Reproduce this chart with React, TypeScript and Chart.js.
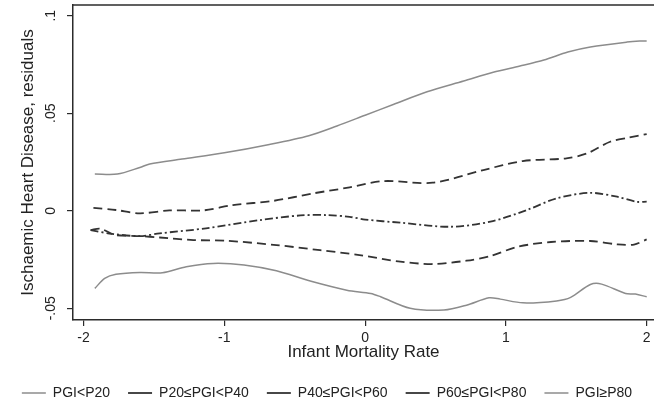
import React, { useEffect, useRef } from "react";
import { Chart, registerables } from "chart.js";

Chart.register(...registerables);

// ---- data ----
const seriesLabels = ["PGI<P20", "P20≤PGI<P40", "P40≤PGI<P60", "P60≤PGI<P80", "PGI≥P80"];

const xTicks = [-2, -1, 0, 1, 2];
const yTicks = [-0.05, 0, 0.05, 0.1];
const yTickLabels = ["-.05", "0", ".05", ".1"];

// PGI<P20 (bottom grey line)
const p20X = [-1.92, -1.85, -1.77, -1.6, -1.44, -1.27, -1.08, -0.86, -0.63, -0.39, -0.13, 0.04, 0.11, 0.32, 0.56, 0.72, 0.88, 0.96, 1.12, 1.36, 1.46, 1.6, 1.68, 1.85, 1.92, 2.0];
const p20Y = [-0.0398, -0.0347, -0.0326, -0.0316, -0.0318, -0.0287, -0.027, -0.0278, -0.0308, -0.036, -0.0407, -0.0424, -0.0441, -0.05, -0.0509, -0.0484, -0.0446, -0.0453, -0.0472, -0.0462, -0.0444, -0.0378, -0.0376, -0.0424, -0.0427, -0.0441];

// P20≤PGI<P40 (lower dashed line)
const p40X = [-1.95, -1.88, -1.8, -1.77, -1.6, -1.46, -1.22, -0.98, -0.63, -0.32, -0.04, 0.25, 0.48, 0.72, 0.89, 1.08, 1.32, 1.6, 1.79, 1.91, 2.0];
const p40Y = [-0.0099, -0.0092, -0.0118, -0.0125, -0.013, -0.0137, -0.015, -0.0154, -0.0176, -0.0202, -0.0227, -0.0261, -0.0273, -0.0256, -0.0232, -0.0185, -0.016, -0.0155, -0.0172, -0.0173, -0.0147];

// P40≤PGI<P60 (dash-dot line)
const p60X = [-1.95, -1.8, -1.6, -1.46, -1.13, -0.75, -0.46, -0.27, -0.11, 0.0, 0.25, 0.6, 0.89, 1.15, 1.36, 1.6, 1.79, 1.93, 2.0];
const p60Y = [-0.0099, -0.0118, -0.013, -0.0116, -0.009, -0.0048, -0.0024, -0.0022, -0.0031, -0.0045, -0.0061, -0.0082, -0.0056, 0.0004, 0.0064, 0.0092, 0.0072, 0.0046, 0.0047];

// P60≤PGI<P80 (upper dashed line)
const p80X = [-1.93, -1.77, -1.6, -1.39, -1.15, -0.94, -0.65, -0.37, -0.11, 0.13, 0.48, 0.84, 1.12, 1.43, 1.58, 1.74, 1.87, 2.0];
const p80Y = [0.0015, 0.0004, -0.0013, 0.0002, 0.0002, 0.0029, 0.0051, 0.0089, 0.012, 0.0152, 0.0144, 0.0209, 0.0255, 0.0269, 0.0295, 0.0354, 0.0375, 0.0393];

// PGI≥P80 (top grey line)
const p100X = [-1.92, -1.76, -1.6, -1.53, -1.3, -1.0, -0.68, -0.4, -0.2, 0.0, 0.2, 0.44, 0.7, 0.91, 1.1, 1.27, 1.44, 1.6, 1.86, 1.95, 2.0];
const p100Y = [0.0188, 0.0188, 0.0222, 0.024, 0.0265, 0.0297, 0.034, 0.0385, 0.0435, 0.049, 0.0545, 0.061, 0.0665, 0.071, 0.0742, 0.0773, 0.0814, 0.084, 0.0865, 0.087, 0.087];

const zip = (xs: number[], ys: number[]) => xs.map((x, i) => ({ x, y: ys[i] }));

const FONT = "'Liberation Sans', Arial, Helvetica, sans-serif";
const TEXT = "#222";
const AXIS = "#2b2b2b";
const GREY = "#8c8c8c";
const DARK = "#333333";
const DASH = [9, 5];
const DASHDOT = [8, 3, 2, 3];

const topBorder = {
  id: "topBorder",
  afterDraw(chart: any) {
    const { ctx, chartArea } = chart;
    ctx.save();
    ctx.strokeStyle = AXIS;
    ctx.lineWidth = 1.5;
    ctx.beginPath();
    ctx.moveTo(chartArea.left - 0.75, chartArea.top);
    ctx.lineTo(chartArea.right, chartArea.top);
    ctx.stroke();
    ctx.restore();
  },
};

export default function App() {
  const ref = useRef<HTMLCanvasElement>(null);

  useEffect(() => {
    const mk = (label: string, data: any[], color: string, dash: number[], width: number) => ({
      label,
      data,
      borderColor: color,
      backgroundColor: color,
      borderDash: dash,
      borderWidth: width,
      pointRadius: 0,
      tension: 0.3,
      fill: false,
    });

    const chart = new Chart(ref.current as HTMLCanvasElement, {
      type: "line",
      data: {
        datasets: [
          mk(seriesLabels[0], zip(p20X, p20Y), GREY, [], 1.5),
          mk(seriesLabels[1], zip(p40X, p40Y), DARK, DASH, 1.8),
          mk(seriesLabels[2], zip(p60X, p60Y), DARK, DASHDOT, 1.8),
          mk(seriesLabels[3], zip(p80X, p80Y), DARK, DASH, 1.8),
          mk(seriesLabels[4], zip(p100X, p100Y), GREY, [], 1.5),
        ],
      },
      options: {
        responsive: false,
        animation: false,
        layout: { padding: { top: 5, right: 0, left: 0, bottom: -4 } },
        scales: {
          x: {
            type: "linear",
            min: -2.075,
            max: 2.052,
            afterBuildTicks: (s: any) => {
              s.ticks = xTicks.map((v) => ({ value: v }));
            },
            afterFit: (s: any) => {
              s.height = 48;
              s.paddingLeft = 0;
              s.paddingRight = 0;
            },
            grid: { drawOnChartArea: false, drawTicks: true, tickLength: 6, color: AXIS, lineWidth: 1.2 },
            border: { display: true, color: AXIS, width: 1.5 },
            ticks: {
              color: TEXT,
              font: { family: FONT, size: 14 },
              padding: 4,
              maxRotation: 0,
              minRotation: 0,
              callback: (v: any) => String(v),
            },
            title: {
              display: true,
              text: "Infant Mortality Rate",
              color: TEXT,
              font: { family: FONT, size: 17 },
              padding: { top: 0, bottom: 5.8 },
            },
          },
          y: {
            type: "linear",
            min: -0.056,
            max: 0.1055,
            afterBuildTicks: (s: any) => {
              s.ticks = yTicks.map((v) => ({ value: v }));
            },
            afterFit: (s: any) => {
              s.width = 73;
              s.paddingTop = 0;
              s.paddingBottom = 0;
            },
            grid: { drawOnChartArea: false, drawTicks: true, tickLength: 6, color: AXIS, lineWidth: 1.2 },
            border: { display: true, color: AXIS, width: 1.5 },
            ticks: {
              color: TEXT,
              font: { family: FONT, size: 14 },
              padding: 4,
              minRotation: 90,
              maxRotation: 90,
              crossAlign: "center",
              callback: (v: any) => {
                const i = yTicks.findIndex((t) => Math.abs(t - Number(v)) < 1e-9);
                return i >= 0 ? yTickLabels[i] : "";
              },
            },
            title: {
              display: true,
              text: "Ischaemic Heart Disease, residuals",
              color: TEXT,
              font: { family: FONT, size: 17 },
              padding: { top: 17.8, bottom: 0 },
            },
          },
        },
        plugins: {
          legend: {
            position: "bottom",
            labels: {
              usePointStyle: true,
              pointStyle: "line",
              pointStyleWidth: 24,
              boxWidth: 24,
              padding: 18,
              color: TEXT,
              font: { family: FONT, size: 14 },
            },
          },
          tooltip: { enabled: false },
        },
      } as any,
      plugins: [topBorder],
    });

    return () => chart.destroy();
  }, []);

  return (
    <div style={{ position: "fixed", left: 0, top: 0, width: 654, height: 406, background: "#fff" }}>
      <canvas ref={ref} width={654} height={406} style={{ display: "block" }} />
    </div>
  );
}
